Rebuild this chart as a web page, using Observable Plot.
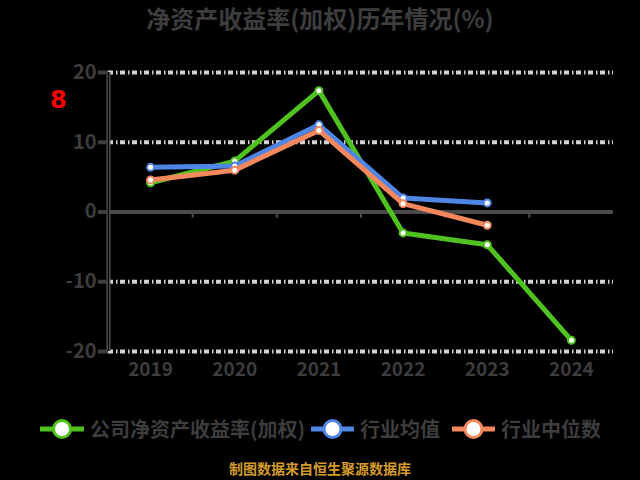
<!DOCTYPE html>
<html>
<head>
<meta charset="utf-8">
<script src="https://cdn.jsdelivr.net/npm/d3@7"></script>
<script src="https://cdn.jsdelivr.net/npm/@observablehq/plot@0.6"></script>
<style>
  html, body { margin: 0; padding: 0; background: #000; }
  body { width: 640px; height: 480px; position: relative; overflow: hidden;
         font-family: "Noto Sans CJK SC", "Noto Sans", sans-serif; font-weight: bold; }
  #title { position: absolute; left: 0; top: 3px; width: 640px; text-align: center;
           font-size: 24px; line-height: 30px; color: #3d3d3d; }
  #mark8 { position: absolute; left: 50px; top: 86px; font-size: 24px; color: #ff0000; font-family: "DejaVu Sans", sans-serif; }
  #chart { position: absolute; left: 0; top: 0; }
  #legend { position: absolute; left: 0; top: 413px; width: 640px; height: 32px; }
  .item { position: absolute; top: 0; height: 32px; display: flex; align-items: center; }
  .item span { font-size: 20px; color: #3d3d3d; margin-left: 6px; line-height: 32px; }
  #caption { position: absolute; left: 0; top: 458px; width: 640px; text-align: center;
             font-size: 14px; color: #d49a2a; }
</style>
</head>
<body>
<div id="chart"></div>
<div id="title"></div>
<div id="mark8">8</div>
<div id="legend"></div>
<div id="caption"></div>
<script>
const titleText = "净资产收益率(加权)历年情况(%)";
const captionText = "制图数据来自恒生聚源数据库";
const years = [2019, 2020, 2021, 2022, 2023, 2024];
const seriesNames = ["公司净资产收益率(加权)", "行业均值", "行业中位数"];
const seriesColors = ["#4fc21f", "#4f86e6", "#f4885c"];
const company = [4.2, 7.3, 17.4, -3.0, -4.7, -18.4];
const industryMean = [6.4, 6.6, 12.5, 2.0, 1.3];
const industryMedian = [4.6, 6.0, 11.7, 1.2, -1.9];
const yTicks = [-20, -10, 0, 10, 20];
const gridValues = [20, 10, -10, -20];
const bandEdges = [2019.5, 2020.5, 2021.5, 2022.5, 2023.5];

document.getElementById("title").textContent = titleText;
document.getElementById("caption").textContent = captionText;

const seriesValues = [company, industryMean, industryMedian];
const rows = [];
seriesValues.forEach((vals, si) => {
  vals.forEach((v, i) => rows.push({series: seriesNames[si], year: years[i], value: v}));
});

const markFor = (name, color) => {
  const d = rows.filter(r => r.series === name);
  return [
    Plot.line(d, {x: "year", y: "value", stroke: color, strokeWidth: 5, strokeLinejoin: "round"}),
    Plot.dot(d, {x: "year", y: "value", r: 3.5, fill: "#fff", stroke: color, strokeWidth: 2})
  ];
};

const chart = Plot.plot({
  width: 640,
  height: 400,
  marginTop: 72,
  marginBottom: 49,
  marginLeft: 108,
  marginRight: 27,
  style: {background: "transparent", fontFamily: "'Noto Sans CJK SC', sans-serif", fontWeight: "bold"},
  x: {type: "linear", domain: [2018.5, 2024.5]},
  y: {domain: [-20, 20]},
  marks: [
    Plot.ruleY(gridValues, {stroke: "#d2d2d2", strokeWidth: 4, strokeDasharray: "5,3,1.5,2.5"}),
    Plot.ruleY([0], {stroke: "#4a4a4a", strokeWidth: 4}),
    Plot.ruleX(bandEdges, {y1: 0, y2: -0.9, stroke: "#4a4a4a", strokeWidth: 2}),
    Plot.ruleX([2018.5], {y1: -20, y2: 20, stroke: "#555", strokeWidth: 4}),
    Plot.ruleX([2018.5], {y1: -20, y2: 20, stroke: "#000", strokeWidth: 1.3}),
    ...markFor(seriesNames[0], seriesColors[0]),
    ...markFor(seriesNames[1], seriesColors[1]),
    ...markFor(seriesNames[2], seriesColors[2]),
    Plot.axisY({ticks: yTicks, tickSize: 10, tickPadding: 2, stroke: "#3d3d3d", strokeWidth: 4,
                tickFormat: d => String(d), fill: "#3d3d3d", fontSize: 20, label: null}),
    Plot.axisX({ticks: years, tickSize: 0, tickPadding: 11, tickFormat: d => String(d),
                fill: "#3d3d3d", fontSize: 19, label: null})
  ]
});
document.getElementById("chart").appendChild(chart);

// legend
const legendPos = [{x: 40, w: 44}, {x: 311, w: 43}, {x: 452, w: 43}];
const legend = document.getElementById("legend");
seriesNames.forEach((name, i) => {
  const item = document.createElement("div");
  item.className = "item";
  item.style.left = legendPos[i].x + "px";
  const w = legendPos[i].w;
  item.innerHTML = `<svg width="${w}" height="32"><line x1="1" x2="${w - 1}" y1="16" y2="16" stroke="${seriesColors[i]}" stroke-width="5" stroke-linecap="round"/><circle cx="${w / 2}" cy="16" r="8.5" fill="#fff" stroke="${seriesColors[i]}" stroke-width="3"/></svg>`;
  const s = document.createElement("span");
  s.textContent = name;
  item.appendChild(s);
  legend.appendChild(item);
});
</script>
</body>
</html>
